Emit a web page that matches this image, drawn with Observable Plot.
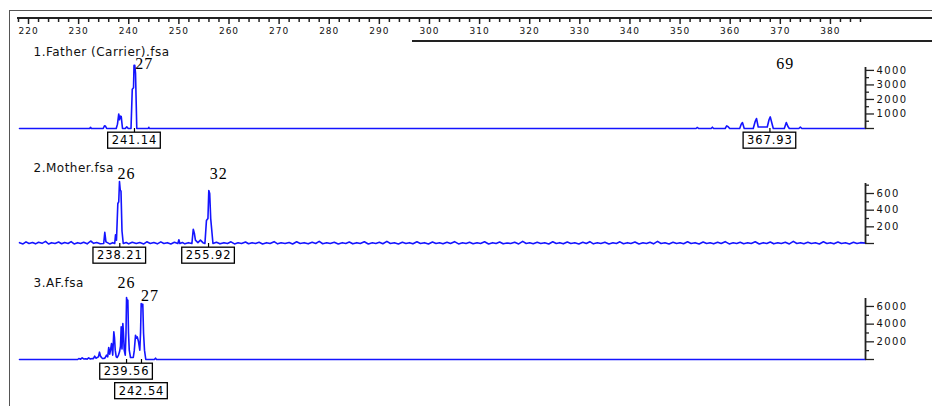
<!DOCTYPE html>
<html><head><meta charset="utf-8">
<script src="https://cdn.jsdelivr.net/npm/d3@7"></script>
<script src="https://cdn.jsdelivr.net/npm/@observablehq/plot@0.6"></script>
<style>
body{margin:0;background:#fff;}
#chart{position:relative;width:932px;height:407px;background:#fff;overflow:hidden;}
#chart svg{position:absolute;left:0;overflow:visible;}
.ln{position:absolute;background:#333;}
</style></head><body><div id="chart"></div>
<script>
// ---- data ----
const xDomain = [218.2, 387];
const rulerMajor = d3.range(220, 390, 10);
const rulerMinor = d3.range(218, 388, 2).filter(d => d % 10 !== 0);

// trace points: [size (bp), height (RFU)]
const traceFather = [
  [218.2,0],[232.2,0],[232.37,80],[232.55,0],
  [234.9,0],[235.15,180],[235.35,170],[235.6,0],
  [237.5,0],[237.75,300],[238.0,1000],[238.15,600],[238.3,850],[238.5,820],[238.75,0],
  [239.3,0],[239.6,110],[239.9,0],
  [240.45,0],[240.7,2700],[240.95,2800],[241.05,4350],[241.2,4350],[241.35,3800],[241.6,0],
  [243.9,0],[244.0,80],[244.1,0],
  [353.2,0],[353.45,70],[353.7,0],
  [356.2,0],[356.45,90],[356.7,0],
  [359.0,0],[359.3,180],[359.6,120],[359.9,0],
  [361.9,0],[362.2,300],[362.45,410],[362.8,0],
  [364.6,0],[365.0,500],[365.25,690],[365.6,100],
  [367.4,100],[367.75,600],[368.0,800],[368.3,400],[368.6,0],
  [370.8,0],[371.2,410],[371.5,150],[371.8,0],
  [373.7,0],[374.0,90],[374.3,0],
  [387,0]
];
const traceMother = [
  [218.2,10],[218.9,-5],[219.5,20],[220.1,0],[220.8,12],[221.4,-4],[222,15],[222.7,2],[223.4,25],[224,-6],
  [224.6,10],[225.3,0],[226,18],[226.6,-3],[227.2,12],[227.9,0],[228.5,22],[229.1,-5],[229.8,10],[230.4,0],
  [231,15],[231.7,-4],[232.4,30],[233,2],[233.6,12],[234.3,-3],
  [235.0,0],[235.22,135],[235.45,20],
  [236.2,-5],[236.8,10],
  [237.2,0],[237.36,104],[237.55,40],[237.82,480],[238.0,500],[238.15,742],[238.3,640],[238.45,630],[238.65,150],[238.9,0],
  [239.5,12],[240,-4],[240.7,15],[241.5,0],[242.2,12],[243,-5],[243.6,20],[244.3,0],[245,12],[245.7,-4],
  [246.4,20],[247,0],[247.7,10],[248.4,-5],[249.1,15],
  [249.8,0],[250.0,45],[250.2,0],[250.7,12],[251.2,-4],[251.9,10],
  [252.6,0],[252.87,170],[253.1,120],[253.3,40],[253.8,10],[254.3,40],[254.8,10],[255.2,0],[255.5,275],[255.8,300],[255.97,635],[256.15,600],[256.35,300],[256.8,0],
  [257.5,15],[258.2,-4],[259,10],[259.7,0],[260.4,20],[261.1,-5],[261.8,8],[262.5,0],[263.3,18],[263.9,-3],
  [264.6,10],[265.3,0],[266,15],[266.7,-5],[267.5,10],[268.2,0],[269,22],[269.7,-4],[270.4,8],[271.2,0],
  [272,12],[272.7,-5],[273.5,20],[274.2,0],[275,10],[275.8,-4],[276.6,15],[277.3,0],[278,25],[278.7,-3],
  [279.5,8],[280.2,0],[281,15],[281.8,-5],[282.6,10],[283.3,0],[284,18],[284.7,-4],[285.5,10],[286.2,0],
  [287,20],[287.8,-5],[288.6,8],[289.3,0],[290,15],[290.7,-3],[291.5,25],[292.2,0],[293,8],[293.8,-5],
  [294.6,15],[295.3,0],[296,10],[296.7,-4],[297.5,20],[298.2,0],[299,10],[299.8,-5],[300.6,18],[301.3,0],
  [302,8],[302.7,-4],[303.5,15],[304.2,0],[305,22],[305.8,-5],[306.6,8],[307.3,0],[308,15],[308.7,-3],
  [309.5,8],[310.2,0],[311,20],[311.8,-5],[312.6,10],[313.3,0],[314,18],[314.7,-4],[315.5,6],[316.2,0],
  [317,15],[317.8,-5],[318.6,25],[319.3,0],[320,8],[320.7,-3],[321.5,15],[322.2,0],[323,8],[323.8,-5],
  [324.6,20],[325.3,0],[326,10],[326.7,-4],[327.5,18],[328.2,0],[329,8],[329.8,-5],[330.6,15],[331.3,0],
  [332,22],[332.7,-4],[333.5,8],[334.2,0],[335,15],[335.8,-5],[336.6,8],[337.3,0],[338,20],[338.7,-3],
  [339.5,10],[340.2,0],[341,18],[341.8,-5],[342.6,8],[343.3,0],[344,15],[344.7,-4],[345.5,25],[346.2,0],
  [347,8],[347.8,-5],[348.6,15],[349.3,0],[350,8],[350.7,-3],[351.5,20],[352.2,0],[353,10],[353.8,-5],
  [354.6,18],[355.3,0],[356,8],[356.7,-4],[357.5,15],[358.2,0],[359,22],[359.8,-5],[360.6,8],[361.3,0],
  [362,15],[362.7,-3],[363.5,8],[364.2,0],[365,20],[365.8,-5],[366.6,10],[367.3,0],[368,18],[368.7,-4],
  [369.5,8],[370.2,0],[371,15],[371.8,-5],[372.6,25],[373.3,0],[374,8],[374.7,-3],[375.5,15],[376.2,0],
  [377,8],[377.8,-5],[378.6,20],[379.3,0],[380,10],[380.7,-4],[381.5,18],[382.2,0],[383,8],[383.8,-5],
  [384.6,15],[385.3,0],[386,10],[387,5]
];
const traceAF = [
  [218.2,0],[229.8,0],[230.04,113],[230.4,40],[230.7,190],[231.0,60],[231.37,75],[231.7,40],[232.0,190],[232.35,60],
  [232.7,110],[232.95,100],[233.2,377],[233.45,150],[233.7,226],[233.95,300],[234.16,830],[234.35,400],[234.56,226],
  [234.8,110],[235.03,110],[235.3,200],[235.56,490],[235.8,300],[236.0,1360],[236.2,600],[236.36,1056],[236.56,1810],
  [236.8,500],[237.02,3130],[237.15,2500],[237.3,1056],[237.5,300],[237.7,226],[237.95,500],[238.16,870],[238.35,1500],
  [238.49,3700],[238.65,1200],[238.82,4070],[238.95,3000],[239.09,1056],[239.3,490],[239.45,3000],[239.56,7010],
  [239.7,6500],[239.82,6710],[239.95,3000],[240.1,1056],[240.35,226],[240.9,226],[241.1,1000],[241.35,2750],[241.5,2400],
  [241.7,2560],[241.95,2000],[242.2,1056],[242.35,3000],[242.48,6330],[242.65,6000],[242.8,6260],[242.95,3000],
  [243.14,1056],[243.4,0],[245.1,0],[245.34,150],[245.55,0],[387,0]
];

const sizeLabelsFather = [{size: 241.14, row: 0}, {size: 367.93, row: 0}];
const sizeLabelsMother = [{size: 238.21, row: 0}, {size: 255.92, row: 0}];
const sizeLabelsAF = [{size: 239.56, row: 0}, {size: 242.54, row: 1}];

const allelesFather = [{label: "27", size: 243.1, rfu: 4480}, {label: "69", size: 371.0, rfu: 4480}];
const allelesMother = [{label: "26", size: 239.55, rfu: 836}, {label: "32", size: 257.97, rfu: 836}];
const allelesAF = [{label: "26", size: 239.55, rfu: 8630}, {label: "27", size: 244.24, rfu: 7240}];

const yFather = {max: 4200, major: [0,1000,2000,3000,4000], minor: [500,1500,2500,3500], labels: [1000,2000,3000,4000]};
const yMother = {max: 720, major: [0,200,400,600], minor: [100,300,500,700], labels: [200,400,600]};
const yAF = {max: 6900, major: [0,2000,4000,6000], minor: [1000,3000,5000], labels: [2000,4000,6000]};

// ---- drawing ----
const BLUE = "#1414ff", AX = "#222";
const SANS = "DejaVu Sans";
const chart = document.getElementById("chart");
const fmt = d3.format(".2f");
// letter spacing per font size used by each text group
const spacing = {"9": "1px", "10": "1.4px", "11.5": "0.9px", "12": "0.5px", "16": "1px"};

function place(svg, top) {
  svg.style.top = top + "px";
  chart.appendChild(svg);
  svg.querySelectorAll("g[font-size]").forEach(g => {
    const s = spacing[g.getAttribute("font-size")];
    if (s) g.style.letterSpacing = s;
  });
}

const ruler = Plot.plot({
  width: 932, height: 42, marginLeft: 19, marginRight: 67, marginTop: 18, marginBottom: 18,
  style: {background: "transparent", overflow: "visible"},
  x: {domain: xDomain, axis: null},
  marks: [
    Plot.ruleX(rulerMajor, {x: d => d, stroke: AX, strokeWidth: 1.5}),
    Plot.ruleX(rulerMinor, {x: d => d, stroke: AX, strokeWidth: 1.5, insetBottom: 2}),
    Plot.text(rulerMajor, {x: d => d, text: d => String(d), frameAnchor: "bottom", lineAnchor: "middle", dy: 7,
      fontFamily: SANS, fontSize: 9, fill: "#111"})
  ]
});
place(ruler, 0);

function panel(cfg) {
  const {trace, ys, sizeLabels, alleles, title, top, height, marginTop, marginBottom} = cfg;
  const svg = Plot.plot({
    width: 932, height, marginLeft: 19, marginRight: 67, marginTop, marginBottom,
    style: {background: "transparent", overflow: "visible"},
    x: {domain: xDomain, axis: null},
    y: {domain: [0, ys.max], axis: null},
    marks: [
      Plot.line(trace, {x: d => d[0], y: d => d[1], stroke: BLUE, strokeWidth: 1.6, curve: "linear"}),
      Plot.ruleX([xDomain[1]], {x: d => d, y1: 0, y2: ys.max, stroke: AX, strokeWidth: 1.8}),
      Plot.ruleY(ys.major, {y: d => d, x1: xDomain[1], x2: xDomain[1], insetRight: -9, stroke: AX, strokeWidth: 1.3}),
      Plot.ruleY(ys.minor, {y: d => d, x1: xDomain[1], x2: xDomain[1], insetRight: -4, stroke: AX, strokeWidth: 1.3}),
      Plot.text(ys.labels, {y: d => d, text: d => String(d), frameAnchor: "right", dx: 11, textAnchor: "start",
        lineAnchor: "middle", fontFamily: SANS, fontSize: 10, fill: "#111"}),
      Plot.ruleX(sizeLabels, {x: "size", y1: 0, y2: 0, insetBottom: -4, stroke: "#000", strokeWidth: 1.2}),
      Plot.text(sizeLabels.filter(d => d.row === 0), {x: "size", y: 0, text: d => fmt(d.size), dy: 12,
        fontFamily: SANS, fontSize: 11.5, fill: "#000"}),
      Plot.text(sizeLabels.filter(d => d.row === 1), {x: "size", y: 0, text: d => fmt(d.size), dy: 31.5,
        fontFamily: SANS, fontSize: 11.5, fill: "#000"}),
      Plot.text(alleles, {x: "size", y: "rfu", text: "label", fontFamily: "Liberation Serif", fontSize: 16,
        fill: "#000"}),
      Plot.text([title], {frameAnchor: "top-left", lineAnchor: "middle", dx: 14, dy: -15, textAnchor: "start",
        text: d => d, fontFamily: SANS, fontSize: 12, fill: "#111"})
    ]
  });
  place(svg, top);
  // boxes around size labels
  svg.querySelectorAll("text").forEach(t => {
    if (!/^\d+\.\d\d$/.test(t.textContent.trim())) return;
    const b = t.getBBox();
    const r = document.createElementNS("http://www.w3.org/2000/svg", "rect");
    const cy = b.y + b.height / 2;
    r.setAttribute("x", b.x - 4);
    r.setAttribute("y", cy - 8);
    r.setAttribute("width", b.width + 7);
    r.setAttribute("height", 16);
    r.setAttribute("fill", "#fff");
    r.setAttribute("stroke", "#000");
    r.setAttribute("stroke-width", "1.3");
    if (t.getAttribute("transform")) r.setAttribute("transform", t.getAttribute("transform"));
    t.parentNode.insertBefore(r, t);
  });
}

panel({trace: traceFather, ys: yFather, sizeLabels: sizeLabelsFather, alleles: allelesFather,
  title: "1.Father (Carrier).fsa", top: 40, height: 115, marginTop: 27, marginBottom: 27});
panel({trace: traceMother, ys: yMother, sizeLabels: sizeLabelsMother, alleles: allelesMother,
  title: "2.Mother.fsa", top: 155, height: 115, marginTop: 28, marginBottom: 27});
panel({trace: traceAF, ys: yAF, sizeLabels: sizeLabelsAF, alleles: allelesAF,
  title: "3.AF.fsa", top: 270, height: 137, marginTop: 28, marginBottom: 48});

// frame lines
function line(l, t, w, h, c) {
  const d = document.createElement("div");
  d.className = "ln";
  Object.assign(d.style, {left: l + "px", top: t + "px", width: w + "px", height: h + "px", background: c});
  chart.appendChild(d);
}
line(9, 10, 923, 1, "#555");
line(9, 10, 1, 396, "#555");
line(17, 17, 915, 1.5, "#222");
line(412, 40, 520, 1.5, "#222");
</script></body></html>
